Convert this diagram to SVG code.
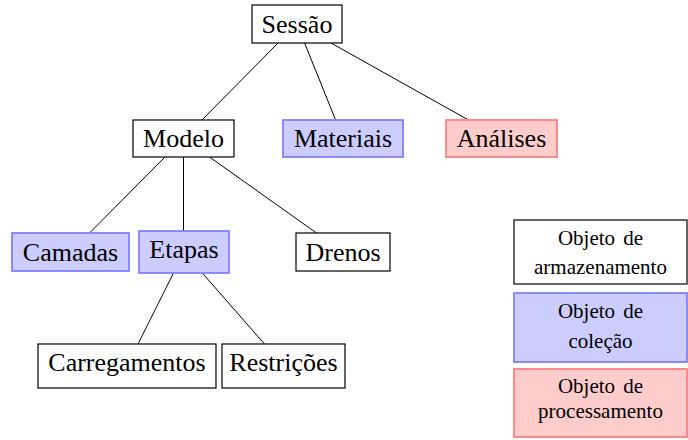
<svg xmlns="http://www.w3.org/2000/svg" width="688" height="440" viewBox="0 0 688 440">
<style>
  text { font-family: "Liberation Serif", "Times New Roman", serif; fill: #000; text-anchor: middle; }
  .t { font-size: 26px; }
  .l { font-size: 21px; word-spacing: 3px; }
  .plain { fill: #ffffff; stroke: #000000; stroke-width: 1.2; }
  .coll { fill: #ccccff; stroke: #8080ff; stroke-width: 1.8; }
  .proc { fill: #ffcccc; stroke: #ff8080; stroke-width: 1.8; }
  .edge { stroke: #000000; stroke-width: 1; fill: none; }
</style>
<g id="connectors">
  <line class="edge" x1="278" y1="43" x2="202" y2="120"/>
  <line class="edge" x1="304.6" y1="43" x2="335.6" y2="120"/>
  <line class="edge" x1="331" y1="43" x2="468.5" y2="120"/>
  <line class="edge" x1="165" y1="157" x2="89.5" y2="233"/>
  <line class="edge" x1="183.5" y1="157" x2="183.5" y2="231"/>
  <line class="edge" x1="209.5" y1="157" x2="316.5" y2="233"/>
  <line class="edge" x1="173.5" y1="273" x2="138" y2="344"/>
  <line class="edge" x1="202.3" y1="273" x2="264.5" y2="344"/>
</g>
<g id="sessao">
  <rect class="plain" x="252" y="5" width="90" height="38"/>
  <text class="t" x="297" y="33">Sessão</text>
</g>
<g id="modelo">
  <rect class="plain" x="133" y="120" width="101" height="37"/>
  <text class="t" x="183.5" y="147">Modelo</text>
</g>
<g id="materiais">
  <rect class="coll" x="283" y="120" width="120" height="37"/>
  <text class="t" x="343" y="147">Materiais</text>
</g>
<g id="analises">
  <rect class="proc" x="446" y="120" width="111" height="37"/>
  <text class="t" x="501.5" y="147">Análises</text>
</g>
<g id="camadas">
  <rect class="coll" x="12" y="233" width="117" height="38"/>
  <text class="t" x="70.5" y="261">Camadas</text>
</g>
<g id="etapas">
  <rect class="coll" x="139" y="231" width="90" height="42"/>
  <text class="t" x="184" y="258">Etapas</text>
</g>
<g id="drenos">
  <rect class="plain" x="296" y="233" width="94" height="38"/>
  <text class="t" x="343" y="261">Drenos</text>
</g>
<g id="carregamentos">
  <rect class="plain" x="38" y="344" width="178" height="44"/>
  <text class="t" x="127" y="371">Carregamentos</text>
</g>
<g id="restricoes">
  <rect class="plain" x="222" y="344" width="123" height="44"/>
  <text class="t" x="283.5" y="371">Restrições</text>
</g>
<g id="legend-armazenamento">
  <rect class="plain" x="514" y="220" width="173" height="64"/>
  <text class="l" x="600.5" y="245">Objeto de</text>
  <text class="l" x="600.5" y="274">armazenamento</text>
</g>
<g id="legend-colecao">
  <rect class="coll" x="514" y="293" width="173" height="69"/>
  <text class="l" x="600.5" y="318">Objeto de</text>
  <text class="l" x="600.5" y="348">coleção</text>
</g>
<g id="legend-processamento">
  <rect class="proc" x="514" y="369" width="173" height="68"/>
  <text class="l" x="600.5" y="393">Objeto de</text>
  <text class="l" x="600.5" y="418">processamento</text>
</g>
</svg>
